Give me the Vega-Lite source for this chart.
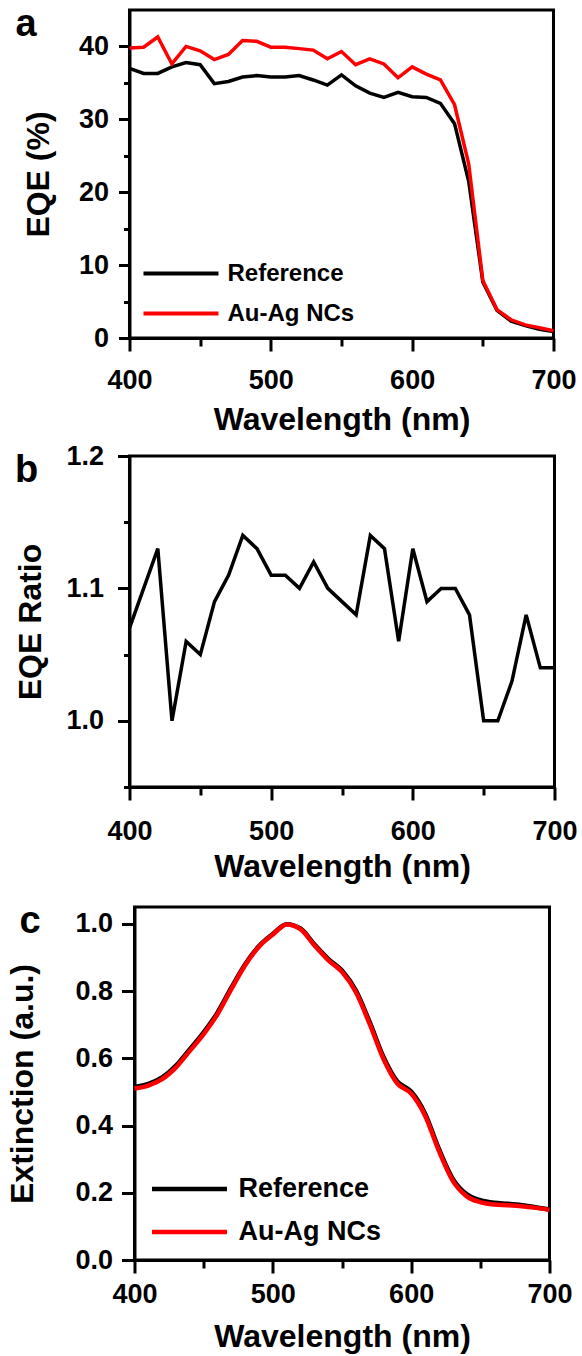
{
  "$schema": "https://vega.github.io/schema/vega-lite/v6.json",
  "background": "white",
  "padding": {"left": 5, "top": 4, "right": 0, "bottom": 0},
  "columns": 1,
  "center": true,
  "spacing": 17,
  "config": {
    "font": "Liberation Sans",
    "view": {"stroke": "black", "strokeWidth": 3},
    "axis": {
      "domainColor": "black", "domainWidth": 3, "tickColor": "black", "tickWidth": 3,
      "labelFont": "Liberation Sans", "labelFontSize": 27, "labelFontWeight": "bold", "labelColor": "black",
      "titleFont": "Liberation Sans", "titleFontSize": 32, "titleFontWeight": "bold", "titleColor": "black",
      "grid": false, "labelPadding": 8, "labelFlush": false, "labelOverlap": false
    },
    "legend": {"labelFont": "Liberation Sans", "labelFontWeight": "bold", "labelColor": "black", "padding": 0},
    "title": {"font": "Liberation Sans", "fontWeight": "bold", "fontSize": 38, "color": "black", "anchor": "start", "frame": "bounds"}
  },
  "resolve": {"scale": {"color": "independent"}, "legend": {"color": "independent"}},
  "datasets": {
    "eqe": [
      {"wl": 400, "series": "Reference", "eqe": 37.0}, {"wl": 410, "series": "Reference", "eqe": 36.3}, {"wl": 420, "series": "Reference", "eqe": 36.3}, {"wl": 430, "series": "Reference", "eqe": 37.2}, {"wl": 440, "series": "Reference", "eqe": 37.8}, {"wl": 450, "series": "Reference", "eqe": 37.5}, {"wl": 460, "series": "Reference", "eqe": 34.9}, {"wl": 470, "series": "Reference", "eqe": 35.2}, {"wl": 480, "series": "Reference", "eqe": 35.8}, {"wl": 490, "series": "Reference", "eqe": 36.0}, {"wl": 500, "series": "Reference", "eqe": 35.8}, {"wl": 510, "series": "Reference", "eqe": 35.8}, {"wl": 520, "series": "Reference", "eqe": 36.0}, {"wl": 530, "series": "Reference", "eqe": 35.4}, {"wl": 540, "series": "Reference", "eqe": 34.7}, {"wl": 550, "series": "Reference", "eqe": 36.1}, {"wl": 560, "series": "Reference", "eqe": 34.6}, {"wl": 570, "series": "Reference", "eqe": 33.6}, {"wl": 580, "series": "Reference", "eqe": 33.0}, {"wl": 590, "series": "Reference", "eqe": 33.7}, {"wl": 600, "series": "Reference", "eqe": 33.1}, {"wl": 610, "series": "Reference", "eqe": 33.0}, {"wl": 620, "series": "Reference", "eqe": 32.2}, {"wl": 630, "series": "Reference", "eqe": 29.4}, {"wl": 640, "series": "Reference", "eqe": 21.5}, {"wl": 650, "series": "Reference", "eqe": 7.7}, {"wl": 660, "series": "Reference", "eqe": 3.8}, {"wl": 670, "series": "Reference", "eqe": 2.3}, {"wl": 680, "series": "Reference", "eqe": 1.7}, {"wl": 690, "series": "Reference", "eqe": 1.2}, {"wl": 700, "series": "Reference", "eqe": 0.9},
      {"wl": 400, "series": "Au-Ag NCs", "eqe": 39.8}, {"wl": 410, "series": "Au-Ag NCs", "eqe": 39.9}, {"wl": 420, "series": "Au-Ag NCs", "eqe": 41.3}, {"wl": 430, "series": "Au-Ag NCs", "eqe": 37.6}, {"wl": 440, "series": "Au-Ag NCs", "eqe": 40.0}, {"wl": 450, "series": "Au-Ag NCs", "eqe": 39.4}, {"wl": 460, "series": "Au-Ag NCs", "eqe": 38.2}, {"wl": 470, "series": "Au-Ag NCs", "eqe": 38.9}, {"wl": 480, "series": "Au-Ag NCs", "eqe": 40.8}, {"wl": 490, "series": "Au-Ag NCs", "eqe": 40.7}, {"wl": 500, "series": "Au-Ag NCs", "eqe": 39.9}, {"wl": 510, "series": "Au-Ag NCs", "eqe": 39.9}, {"wl": 520, "series": "Au-Ag NCs", "eqe": 39.7}, {"wl": 530, "series": "Au-Ag NCs", "eqe": 39.5}, {"wl": 540, "series": "Au-Ag NCs", "eqe": 38.3}, {"wl": 550, "series": "Au-Ag NCs", "eqe": 39.3}, {"wl": 560, "series": "Au-Ag NCs", "eqe": 37.5}, {"wl": 570, "series": "Au-Ag NCs", "eqe": 38.3}, {"wl": 580, "series": "Au-Ag NCs", "eqe": 37.6}, {"wl": 590, "series": "Au-Ag NCs", "eqe": 35.7}, {"wl": 600, "series": "Au-Ag NCs", "eqe": 37.2}, {"wl": 610, "series": "Au-Ag NCs", "eqe": 36.2}, {"wl": 620, "series": "Au-Ag NCs", "eqe": 35.4}, {"wl": 630, "series": "Au-Ag NCs", "eqe": 32.0}, {"wl": 640, "series": "Au-Ag NCs", "eqe": 23.9}, {"wl": 650, "series": "Au-Ag NCs", "eqe": 7.9}, {"wl": 660, "series": "Au-Ag NCs", "eqe": 3.9}, {"wl": 670, "series": "Au-Ag NCs", "eqe": 2.5}, {"wl": 680, "series": "Au-Ag NCs", "eqe": 1.8}, {"wl": 690, "series": "Au-Ag NCs", "eqe": 1.4}, {"wl": 700, "series": "Au-Ag NCs", "eqe": 1.0}
    ],
    "ratio": [
      {"wl": 400, "ratio": 1.07}, {"wl": 410, "ratio": 1.10}, {"wl": 420, "ratio": 1.13}, {"wl": 430, "ratio": 1.00}, {"wl": 440, "ratio": 1.06}, {"wl": 450, "ratio": 1.05}, {"wl": 460, "ratio": 1.09}, {"wl": 470, "ratio": 1.11}, {"wl": 480, "ratio": 1.14}, {"wl": 490, "ratio": 1.13}, {"wl": 500, "ratio": 1.11}, {"wl": 510, "ratio": 1.11}, {"wl": 520, "ratio": 1.10}, {"wl": 530, "ratio": 1.12}, {"wl": 540, "ratio": 1.10}, {"wl": 550, "ratio": 1.09}, {"wl": 560, "ratio": 1.08}, {"wl": 570, "ratio": 1.14}, {"wl": 580, "ratio": 1.13}, {"wl": 590, "ratio": 1.06}, {"wl": 600, "ratio": 1.13}, {"wl": 610, "ratio": 1.09}, {"wl": 620, "ratio": 1.10}, {"wl": 630, "ratio": 1.10}, {"wl": 640, "ratio": 1.08}, {"wl": 650, "ratio": 1.00}, {"wl": 660, "ratio": 1.00}, {"wl": 670, "ratio": 1.03}, {"wl": 680, "ratio": 1.08}, {"wl": 690, "ratio": 1.04}, {"wl": 700, "ratio": 1.04}
    ],
    "ext": [
      {"wl": 400, "series": "Reference", "ext": 0.515}, {"wl": 410, "series": "Reference", "ext": 0.524}, {"wl": 420, "series": "Reference", "ext": 0.543}, {"wl": 430, "series": "Reference", "ext": 0.578}, {"wl": 440, "series": "Reference", "ext": 0.627}, {"wl": 450, "series": "Reference", "ext": 0.677}, {"wl": 460, "series": "Reference", "ext": 0.736}, {"wl": 470, "series": "Reference", "ext": 0.810}, {"wl": 480, "series": "Reference", "ext": 0.880}, {"wl": 490, "series": "Reference", "ext": 0.934}, {"wl": 500, "series": "Reference", "ext": 0.970}, {"wl": 510, "series": "Reference", "ext": 0.999}, {"wl": 520, "series": "Reference", "ext": 0.986}, {"wl": 530, "series": "Reference", "ext": 0.939}, {"wl": 540, "series": "Reference", "ext": 0.896}, {"wl": 550, "series": "Reference", "ext": 0.861}, {"wl": 560, "series": "Reference", "ext": 0.802}, {"wl": 570, "series": "Reference", "ext": 0.708}, {"wl": 580, "series": "Reference", "ext": 0.604}, {"wl": 590, "series": "Reference", "ext": 0.531}, {"wl": 600, "series": "Reference", "ext": 0.501}, {"wl": 610, "series": "Reference", "ext": 0.436}, {"wl": 620, "series": "Reference", "ext": 0.331}, {"wl": 630, "series": "Reference", "ext": 0.242}, {"wl": 640, "series": "Reference", "ext": 0.196}, {"wl": 650, "series": "Reference", "ext": 0.178}, {"wl": 660, "series": "Reference", "ext": 0.170}, {"wl": 670, "series": "Reference", "ext": 0.167}, {"wl": 680, "series": "Reference", "ext": 0.163}, {"wl": 690, "series": "Reference", "ext": 0.157}, {"wl": 700, "series": "Reference", "ext": 0.150},
      {"wl": 400, "series": "Au-Ag NCs", "ext": 0.510}, {"wl": 410, "series": "Au-Ag NCs", "ext": 0.519}, {"wl": 420, "series": "Au-Ag NCs", "ext": 0.538}, {"wl": 430, "series": "Au-Ag NCs", "ext": 0.573}, {"wl": 440, "series": "Au-Ag NCs", "ext": 0.622}, {"wl": 450, "series": "Au-Ag NCs", "ext": 0.672}, {"wl": 460, "series": "Au-Ag NCs", "ext": 0.731}, {"wl": 470, "series": "Au-Ag NCs", "ext": 0.806}, {"wl": 480, "series": "Au-Ag NCs", "ext": 0.877}, {"wl": 490, "series": "Au-Ag NCs", "ext": 0.932}, {"wl": 500, "series": "Au-Ag NCs", "ext": 0.968}, {"wl": 510, "series": "Au-Ag NCs", "ext": 0.998}, {"wl": 520, "series": "Au-Ag NCs", "ext": 0.984}, {"wl": 530, "series": "Au-Ag NCs", "ext": 0.936}, {"wl": 540, "series": "Au-Ag NCs", "ext": 0.892}, {"wl": 550, "series": "Au-Ag NCs", "ext": 0.857}, {"wl": 560, "series": "Au-Ag NCs", "ext": 0.797}, {"wl": 570, "series": "Au-Ag NCs", "ext": 0.702}, {"wl": 580, "series": "Au-Ag NCs", "ext": 0.598}, {"wl": 590, "series": "Au-Ag NCs", "ext": 0.525}, {"wl": 600, "series": "Au-Ag NCs", "ext": 0.495}, {"wl": 610, "series": "Au-Ag NCs", "ext": 0.430}, {"wl": 620, "series": "Au-Ag NCs", "ext": 0.325}, {"wl": 630, "series": "Au-Ag NCs", "ext": 0.236}, {"wl": 640, "series": "Au-Ag NCs", "ext": 0.190}, {"wl": 650, "series": "Au-Ag NCs", "ext": 0.172}, {"wl": 660, "series": "Au-Ag NCs", "ext": 0.165}, {"wl": 670, "series": "Au-Ag NCs", "ext": 0.163}, {"wl": 680, "series": "Au-Ag NCs", "ext": 0.160}, {"wl": 690, "series": "Au-Ag NCs", "ext": 0.155}, {"wl": 700, "series": "Au-Ag NCs", "ext": 0.149}
    ]
  },
  "concat": [
    {
      "spacing": 3,
      "resolve": {"scale": {"color": "independent"}, "legend": {"color": "independent"}},
      "vconcat": [
        {
          "title": {"text": "a", "dx": -7, "dy": 38},
          "width": 424, "height": 328,
          "data": {"name": "eqe"},
          "mark": {"type": "line", "strokeWidth": 3.5},
          "encoding": {
            "x": {"field": "wl", "type": "quantitative", "scale": {"domain": [400, 700], "nice": false},
              "axis": {"title": "Wavelength (nm)", "values": [400, 450, 500, 550, 600, 650, 700],
                "labelExpr": "datum.value % 100 === 0 ? datum.label : ''",
                "tickSize": {"condition": {"test": "datum.value % 100 === 0", "value": 13}, "value": 8},
                "labelPadding": 16, "titlePadding": 11}},
            "y": {"field": "eqe", "type": "quantitative", "scale": {"domain": [0, 45], "nice": false},
              "axis": {"title": "EQE (%)", "values": [0, 5, 10, 15, 20, 25, 30, 35, 40],
                "labelExpr": "datum.value % 10 === 0 ? datum.label : ''",
                "tickSize": {"condition": {"test": "datum.value % 10 === 0", "value": 11}, "value": 6},
                "labelPadding": 10, "titlePadding": 23}},
            "color": {"field": "series", "type": "nominal", "sort": ["Reference", "Au-Ag NCs"],
              "scale": {"domain": ["Reference", "Au-Ag NCs"], "range": ["#000000", "#ff0000"]},
              "legend": {"title": null, "orient": "bottom-left", "offset": 12, "symbolType": "M-1,0H5",
                "symbolSize": 625, "symbolStrokeWidth": 4, "labelFontSize": 24, "labelOffset": 57, "rowPadding": 13}}
          }
        },
        {
          "title": {"text": "b", "dx": 0, "dy": 52},
          "width": 425, "height": 331,
          "data": {"name": "ratio"},
          "mark": {"type": "line", "strokeWidth": 3.5, "color": "black"},
          "encoding": {
            "x": {"field": "wl", "type": "quantitative", "scale": {"domain": [400, 700], "nice": false},
              "axis": {"title": "Wavelength (nm)", "values": [400, 450, 500, 550, 600, 650, 700],
                "labelExpr": "datum.value % 100 === 0 ? datum.label : ''",
                "tickSize": {"condition": {"test": "datum.value % 100 === 0", "value": 13}, "value": 8},
                "labelPadding": 18, "titlePadding": 7}},
            "y": {"field": "ratio", "type": "quantitative", "scale": {"domain": [0.95, 1.2], "nice": false, "zero": false},
              "axis": {"title": "EQE Ratio", "values": [0.95, 1.0, 1.05, 1.1, 1.15, 1.2], "format": ".1f",
                "labelExpr": "round(datum.value * 20) % 2 === 0 ? datum.label : ''",
                "tickSize": {"condition": {"test": "round(datum.value * 20) % 2 === 0", "value": 12}, "value": 6},
                "labelPadding": 14, "titlePadding": 18}}
          }
        }
      ]
    },
    {
      "title": {"text": "c", "dx": 12.5, "dy": 38},
      "width": 415, "height": 353,
      "data": {"name": "ext"},
      "mark": {"type": "line", "strokeWidth": 4.5, "interpolate": "monotone"},
      "encoding": {
        "x": {"field": "wl", "type": "quantitative", "scale": {"domain": [400, 700], "nice": false},
          "axis": {"title": "Wavelength (nm)", "values": [400, 450, 500, 550, 600, 650, 700],
            "labelExpr": "datum.value % 100 === 0 ? datum.label : ''",
            "tickSize": {"condition": {"test": "datum.value % 100 === 0", "value": 13}, "value": 8},
            "labelPadding": 8, "titlePadding": 14}},
        "y": {"field": "ext", "type": "quantitative", "scale": {"domain": [0, 1.05], "nice": false},
          "axis": {"title": "Extinction (a.u.)", "values": [0, 0.2, 0.4, 0.6, 0.8, 1.0], "format": ".1f",
            "tickSize": 13, "labelPadding": 9, "titlePadding": 35}},
        "color": {"field": "series", "type": "nominal", "sort": ["Reference", "Au-Ag NCs"],
          "scale": {"domain": ["Reference", "Au-Ag NCs"], "range": ["#000000", "#ff0000"]},
          "legend": {"title": null, "orient": "bottom-left", "offset": 15, "symbolType": "M-1,0H5",
            "symbolSize": 625, "symbolStrokeWidth": 4.5, "labelFontSize": 27, "labelOffset": 59, "rowPadding": 15}}
      }
    }
  ]
}
